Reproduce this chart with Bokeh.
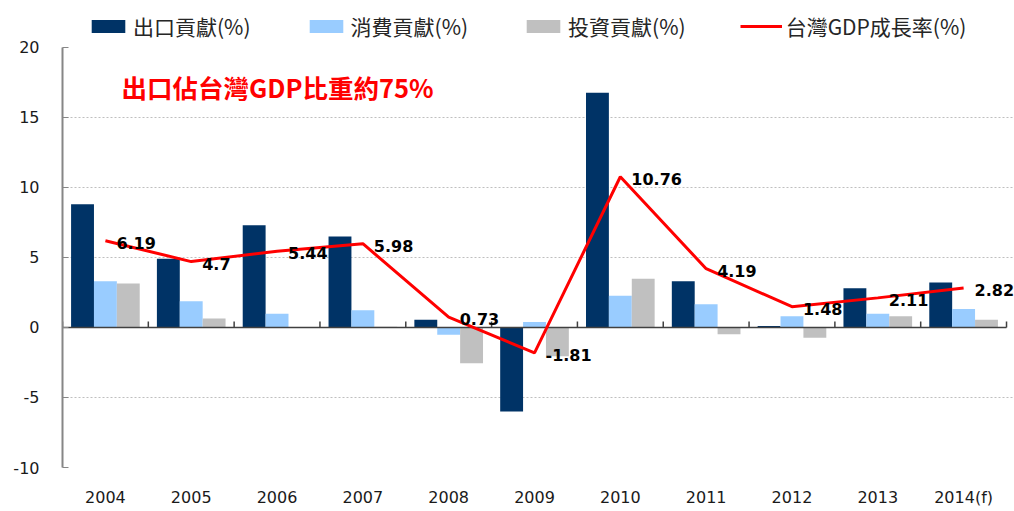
import numpy as np
from bokeh.plotting import figure
from bokeh.models import (Range1d, FixedTicker, Legend, LegendItem, PrintfTickFormatter,
                          LabelSet, Label, ColumnDataSource)
from bokeh.core.properties import value
from bokeh.embed import file_html
from bokeh.resources import INLINE

# ---------------- data ----------------
years = ["2004", "2005", "2006", "2007", "2008", "2009", "2010", "2011", "2012", "2013", "2014(f)"]
export_contrib = [8.8, 4.9, 7.3, 6.5, 0.55, -6.0, 16.75, 3.3, 0.1, 2.8, 3.2]
consumption_contrib = [3.3, 1.87, 0.97, 1.23, -0.52, 0.38, 2.27, 1.65, 0.8, 0.97, 1.32]
investment_contrib = [3.14, 0.64, 0.0, 0.05, -2.56, -2.06, 3.47, -0.48, -0.74, 0.8, 0.54]
gdp_growth = [6.19, 4.7, 5.44, 5.98, 0.73, -1.81, 10.76, 4.19, 1.48, 2.11, 2.82]
y_ticks = [-10, -5, 0, 5, 10, 15, 20]
series_names = ["出口貢獻(%)", "消費貢獻(%)", "投資貢獻(%)", "台灣GDP成長率(%)"]
annotation_text = "出口佔台灣GDP比重約75%"

# ---------------- styles ----------------
C_EXPORT = "#003366"
C_CONS = "#99CCFF"
C_INV = "#C0C0C0"
C_GDP = "#FF0000"
C_AXIS0 = "#404040"
TICK_FONT = "DejaVu Sans"
CJK_FONT = "Noto Sans CJK TC"

n = len(years)
xc = np.arange(n) + 0.5
boundaries = np.arange(n + 1)
bw = 0.8 / 3
y_min, y_max = -10, 20
y_top = 22.77      # headroom above the axis so the legend sits inside the frame
x_right = n + 0.093  # small room for the last data label

p = figure(width=1014, height=509, output_backend="svg", toolbar_location=None,
           x_range=Range1d(0, x_right), y_range=Range1d(y_min, y_top),
           min_border_left=62, min_border_right=0, min_border_top=8, min_border_bottom=40)
p.outline_line_color = None
p.background_fill_color = "white"
p.border_fill_color = "white"

r_exp = p.vbar(x=xc - bw, top=export_contrib, bottom=0, width=bw, fill_color=C_EXPORT, line_color=None)
r_con = p.vbar(x=xc, top=consumption_contrib, bottom=0, width=bw, fill_color=C_CONS, line_color=None)
r_inv = p.vbar(x=xc + bw, top=investment_contrib, bottom=0, width=bw, fill_color=C_INV, line_color=None)

# zero line with category-boundary ticks
p.segment(x0=[boundaries[0]], y0=[0], x1=[boundaries[-1]], y1=[0], line_color=C_AXIS0, line_width=1.5)
p.ray(x=boundaries, y=np.zeros(n + 1), length=6, length_units="screen", angle=np.pi / 2,
      line_color=C_AXIS0, line_width=1.5)

r_gdp = p.line(x=xc, y=gdp_growth, line_color=C_GDP, line_width=3)

# data labels
src = ColumnDataSource(dict(x=xc, y=gdp_growth, t=[str(v) for v in gdp_growth]))
labels = LabelSet(x="x", y="y", text="t", source=src, x_offset=11, y_offset=-2,
                  text_font=value(TICK_FONT), text_font_style="bold", text_font_size="16px",
                  text_baseline="middle", text_align="left", text_color="black")
p.add_layout(labels)

# annotation
p.add_layout(Label(x=0.687, y=17.2, text=annotation_text, text_font=CJK_FONT,
                   text_font_style="bold", text_font_size="25.5px", text_color="#FF0000",
                   text_baseline="middle", text_align="left"))

# grid
p.xgrid.visible = False
p.ygrid.ticker = FixedTicker(ticks=[t for t in y_ticks if t not in (0, y_max)])
p.ygrid.grid_line_color = "#BFBFBF"
p.ygrid.grid_line_dash = "2 2"
p.ygrid.grid_line_width = 1

# y axis
ya = p.yaxis[0]
ya.ticker = FixedTicker(ticks=y_ticks)
ya.formatter = PrintfTickFormatter(format="%d")
ya.bounds = (y_min, y_max)
ya.axis_line_color = "#868686"
ya.axis_line_width = 2
ya.major_tick_line_color = "#868686"
ya.major_tick_in = 6
ya.major_tick_out = 0
ya.minor_tick_line_color = None
ya.major_label_text_font = TICK_FONT
ya.major_label_text_font_size = "16px"
ya.major_label_text_color = "#1a1a1a"
ya.major_label_standoff = 23

# bottom axis: year labels only
xa = p.xaxis[0]
xa.ticker = FixedTicker(ticks=list(xc))
xa.major_label_overrides = {float(v): yr for v, yr in zip(xc, years)}
xa.axis_line_color = None
xa.major_tick_line_color = None
xa.major_tick_in = 0
xa.major_tick_out = 0
xa.minor_tick_line_color = None
xa.major_label_text_font = TICK_FONT
xa.major_label_text_font_size = "16px"
xa.major_label_text_color = "#1a1a1a"
xa.major_label_standoff = 20

# legend (inside the frame's headroom)
legend = Legend(items=[LegendItem(label=series_names[0], renderers=[r_exp]),
                       LegendItem(label=series_names[1], renderers=[r_con]),
                       LegendItem(label=series_names[2], renderers=[r_inv]),
                       LegendItem(label=series_names[3], renderers=[r_gdp])],
                orientation="horizontal", location=(25, 426), padding=0, margin=0,
                spacing=54, glyph_width=42, glyph_height=16, label_standoff=4,
                label_text_font=CJK_FONT, label_text_font_size="21px",
                label_text_color="#262626", background_fill_alpha=0,
                border_line_alpha=0)
p.add_layout(legend)

open("out.html", "w").write(file_html(p, INLINE))
